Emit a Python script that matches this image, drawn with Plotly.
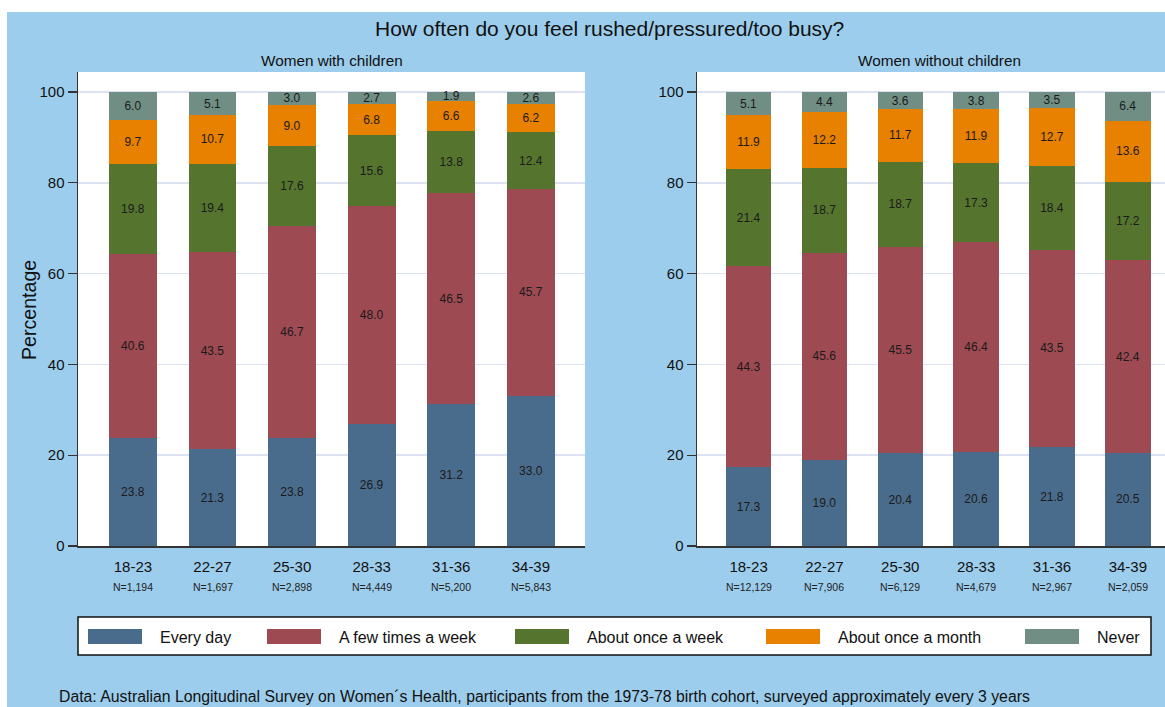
import plotly.graph_objects as go

# ---------------- data ----------------
age_groups = ["18-23", "22-27", "25-30", "28-33", "31-36", "34-39"]
n_with = ["N=1,194", "N=1,697", "N=2,898", "N=4,449", "N=5,200", "N=5,843"]
n_without = ["N=12,129", "N=7,906", "N=6,129", "N=4,679", "N=2,967", "N=2,059"]

series_names = ["Every day", "A few times a week", "About once a week",
                "About once a month", "Never"]
series_colors = ["#4A6C8C", "#9E4A52", "#55752F", "#E88000", "#708E84"]

with_every_day = [23.8, 21.3, 23.8, 26.9, 31.2, 33.0]
with_few_week = [40.6, 43.5, 46.7, 48.0, 46.5, 45.7]
with_once_week = [19.8, 19.4, 17.6, 15.6, 13.8, 12.4]
with_once_month = [9.7, 10.7, 9.0, 6.8, 6.6, 6.2]
with_never = [6.0, 5.1, 3.0, 2.7, 1.9, 2.6]

without_every_day = [17.3, 19.0, 20.4, 20.6, 21.8, 20.5]
without_few_week = [44.3, 45.6, 45.5, 46.4, 43.5, 42.4]
without_once_week = [21.4, 18.7, 18.7, 17.3, 18.4, 17.2]
without_once_month = [11.9, 12.2, 11.7, 11.9, 12.7, 13.6]
without_never = [5.1, 4.4, 3.6, 3.8, 3.5, 6.4]

title_text = "How often do you feel rushed/pressured/too busy?"
panel_titles = ["Women with children", "Women without children"]
y_title = "Percentage"
footer = ("Data: Australian Longitudinal Survey on Women\u00b4s Health, participants "
          "from the 1973-78 birth cohort, surveyed approximately every 3 years")
y_ticks = [0, 20, 40, 60, 80, 100]

# ---------------- figure ----------------
REF_W, REF_H = 1165, 707      # reference pixel grid used for placement
FIG_W, FIG_H = 1165, 715      # captured page area
FONT = "Liberation Sans, Arial, sans-serif"
BLUE = "#9CCDEC"


def fx(p):
    return p / REF_W


def fy(p):
    return 1 - p / REF_H


with_series = [with_every_day, with_few_week, with_once_week, with_once_month, with_never]
without_series = [without_every_day, without_few_week, without_once_week,
                  without_once_month, without_never]

xs = list(range(len(age_groups)))
fig = go.Figure()
for panel, (data, xa, ya) in enumerate([(with_series, "x", "y"), (without_series, "x2", "y2")]):
    for name, color, vals in zip(series_names, series_colors, data):
        fig.add_trace(go.Bar(
            x=xs, y=vals, name=name, xaxis=xa, yaxis=ya,
            marker=dict(color=color, line=dict(width=0)),
            width=0.6,
            texttemplate="%{y:.1f}", textposition="inside",
            insidetextanchor="middle", textangle=0,
            textfont=dict(size=12, color="#1a1a1a", family=FONT),
            showlegend=False, hoverinfo="skip",
        ))

axis_common = dict(showgrid=False, zeroline=False, showline=True, linecolor="#333333",
                   linewidth=1.5, tickmode="array", tickvals=xs, ticktext=age_groups,
                   ticks="", tickfont=dict(size=15, color="#111", family=FONT),
                   ticklabelstandoff=6, fixedrange=True)
yaxis_common = dict(range=[0, 104.4], tickmode="array", tickvals=y_ticks,
                    showgrid=True, gridcolor="#DCE2F2", gridwidth=1.5, zeroline=False,
                    showline=True, linecolor="#333333", linewidth=1.5,
                    ticks="outside", ticklen=9, tickwidth=1.2, tickcolor="#333333",
                    tickfont=dict(size=15, color="#111", family=FONT), fixedrange=True)

fig.update_layout(
    width=FIG_W, height=FIG_H,
    margin=dict(l=0, r=0, t=0, b=0),
    paper_bgcolor=BLUE, plot_bgcolor="white",
    barmode="stack", bargap=0.4,
    uniformtext=dict(minsize=12, mode="show"),
    font=dict(family=FONT, color="#111"),
    showlegend=False,
    xaxis=dict(domain=[fx(78), fx(585)], range=[-0.69, 5.68], anchor="y", **axis_common),
    xaxis2=dict(domain=[fx(697), 1.0], range=[-0.68, 5.49], anchor="y2", **axis_common),
    yaxis=dict(domain=[fy(546), fy(72)], anchor="x", **yaxis_common),
    yaxis2=dict(domain=[fy(546), fy(72)], anchor="x2", **yaxis_common),
)

shapes = [
    dict(type="rect", xref="paper", yref="paper", x0=-0.01, x1=1.01, y0=fy(12), y1=1.01,
         fillcolor="white", line=dict(width=0)),
    dict(type="rect", xref="paper", yref="paper", x0=-0.01, x1=fx(7), y0=-0.01, y1=1.01,
         fillcolor="white", line=dict(width=0)),
    dict(type="rect", xref="paper", yref="paper", x0=fx(78), x1=fx(1151),
         y0=fy(655), y1=fy(617), fillcolor="white", line=dict(color="#111", width=1.5)),
]

annotations = [
    dict(text=title_text, x=fx(609), y=fy(28), xref="paper", yref="paper",
         xanchor="center", yanchor="middle", showarrow=False,
         font=dict(size=21, color="#111", family=FONT)),
    dict(text=panel_titles[0], x=fx(332), y=fy(61), xref="paper", yref="paper",
         xanchor="center", yanchor="middle", showarrow=False,
         font=dict(size=15.3, color="#111", family=FONT)),
    dict(text=panel_titles[1], x=fx(939), y=fy(61), xref="paper", yref="paper",
         xanchor="center", yanchor="middle", showarrow=False,
         font=dict(size=15.3, color="#111", family=FONT)),
    dict(text=y_title, x=fx(29), y=fy(310), xref="paper", yref="paper",
         xanchor="center", yanchor="middle", showarrow=False, textangle=-90,
         font=dict(size=19.6, color="#111", family=FONT)),
    dict(text=footer, x=fx(57), y=fy(696), xref="paper", yref="paper",
         xanchor="left", yanchor="middle", showarrow=False,
         font=dict(size=15.8, color="#111", family=FONT)),
]

for xa, labels in (("x", n_with), ("x2", n_without)):
    for i, lab in enumerate(labels):
        annotations.append(dict(text=lab, x=i, xref=xa, y=fy(587), yref="paper",
                                xanchor="center", yanchor="middle", showarrow=False,
                                font=dict(size=10.5, color="#222", family=FONT)))

swatch_left = [88, 267, 515, 766, 1025]
for left, name, color in zip(swatch_left, series_names, series_colors):
    shapes.append(dict(type="rect", xref="paper", yref="paper",
                       x0=fx(left), x1=fx(left + 54), y0=fy(644), y1=fy(629),
                       fillcolor=color, line=dict(width=0)))
    annotations.append(dict(text=name, x=fx(left + 70), y=fy(637), xref="paper",
                            yref="paper", xanchor="left", yanchor="middle",
                            showarrow=False,
                            font=dict(size=16, color="#111", family=FONT)))

fig.update_layout(shapes=shapes, annotations=annotations)
fig.write_html(
    "out.html",
    config={"displayModeBar": False, "staticPlot": True},
    post_script="document.body.style.margin='0';document.body.style.overflow='hidden';",
)
